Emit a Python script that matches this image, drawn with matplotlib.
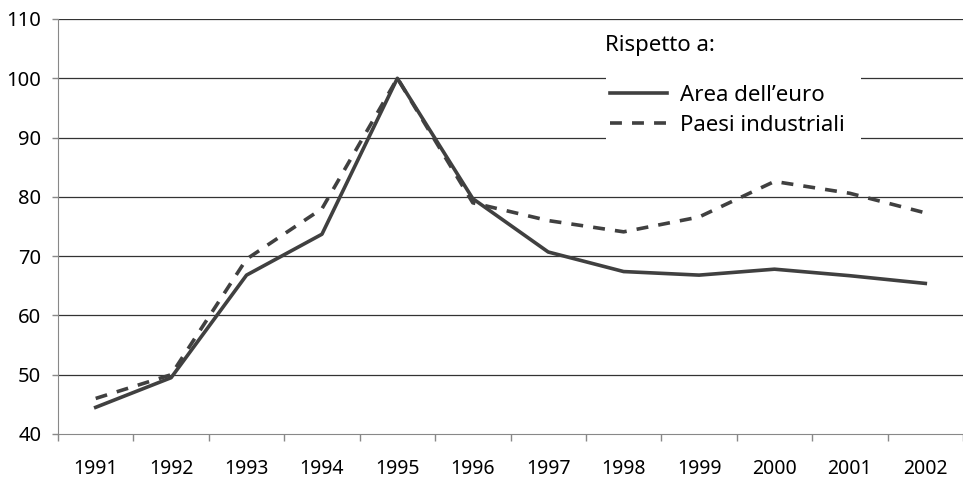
import matplotlib
matplotlib.use('Agg')
import matplotlib.pyplot as plt
from matplotlib.patches import Rectangle

plt.rcParams['font.family'] = ['Noto Sans', 'DejaVu Sans']

# Data
years = ['1991', '1992', '1993', '1994', '1995', '1996',
         '1997', '1998', '1999', '2000', '2001', '2002']
area_euro = [44.5, 49.5, 66.8, 73.7, 100.0, 79.7, 70.7, 67.4, 66.8, 67.8, 66.7, 65.4]
paesi_ind = [46.0, 50.0, 69.5, 78.0, 100.0, 79.0, 76.0, 74.1, 76.6, 82.6, 80.6, 77.3]
yticks = [40, 50, 60, 70, 80, 90, 100, 110]

line_col = '#404040'

fig = plt.figure(figsize=(9.63, 4.79), dpi=100)
ax = fig.add_axes([58 / 963, 1 - 434 / 479, 905 / 963, 415 / 479])

x = range(len(years))
ax.plot(x, area_euro, color=line_col, lw=2.6, solid_joinstyle='round',
        label="Area dell\u2019euro", zorder=3)
ax.plot(x, paesi_ind, color=line_col, lw=2.6, ls=(0, (3.3, 2.8)),
        label='Paesi industriali', zorder=3)

ax.set_xlim(-0.5, len(years) - 0.5)
ax.set_ylim(40, 110)
ax.set_yticks(yticks)
ax.set_yticklabels([str(v) for v in yticks], fontsize=14.5)

# category labels centred, ticks on the boundaries
ax.set_xticks([i + 0.5 for i in range(-1, len(years))])
ax.set_xticklabels([])
ax.set_xticks(list(x), minor=True)
ax.set_xticklabels(years, minor=True, fontsize=14)
ax.tick_params(axis='x', which='major', length=5, color='#888888', width=1)
ax.tick_params(axis='x', which='minor', length=0, pad=18)
ax.tick_params(axis='y', length=4, color='#888888', width=1, pad=8)

for v in yticks[1:]:
    ax.axhline(v, color='#333333', lw=0.9, zorder=1)

for s in ['top', 'right']:
    ax.spines[s].set_visible(False)
ax.spines['left'].set_color('#888888')
ax.spines['bottom'].set_color('#888888')

# white box behind the legend, hiding the gridlines
ax.add_patch(Rectangle((0.6055, 0.696), 0.2818, 0.181, transform=ax.transAxes,
                       facecolor='white', edgecolor='none', zorder=4))
ax.text(0.6044, 0.935, 'Rispetto a:', transform=ax.transAxes,
        fontsize=16, va='center', ha='left', zorder=5)

leg = ax.legend(loc='center left', bbox_to_anchor=(0.61, 0.7795),
                fontsize=16, frameon=False, handlelength=2.56,
                handletextpad=0.59, borderpad=0, borderaxespad=0,
                labelspacing=0.4)
leg.set_zorder(5)

fig.savefig('out.png', dpi=100)
